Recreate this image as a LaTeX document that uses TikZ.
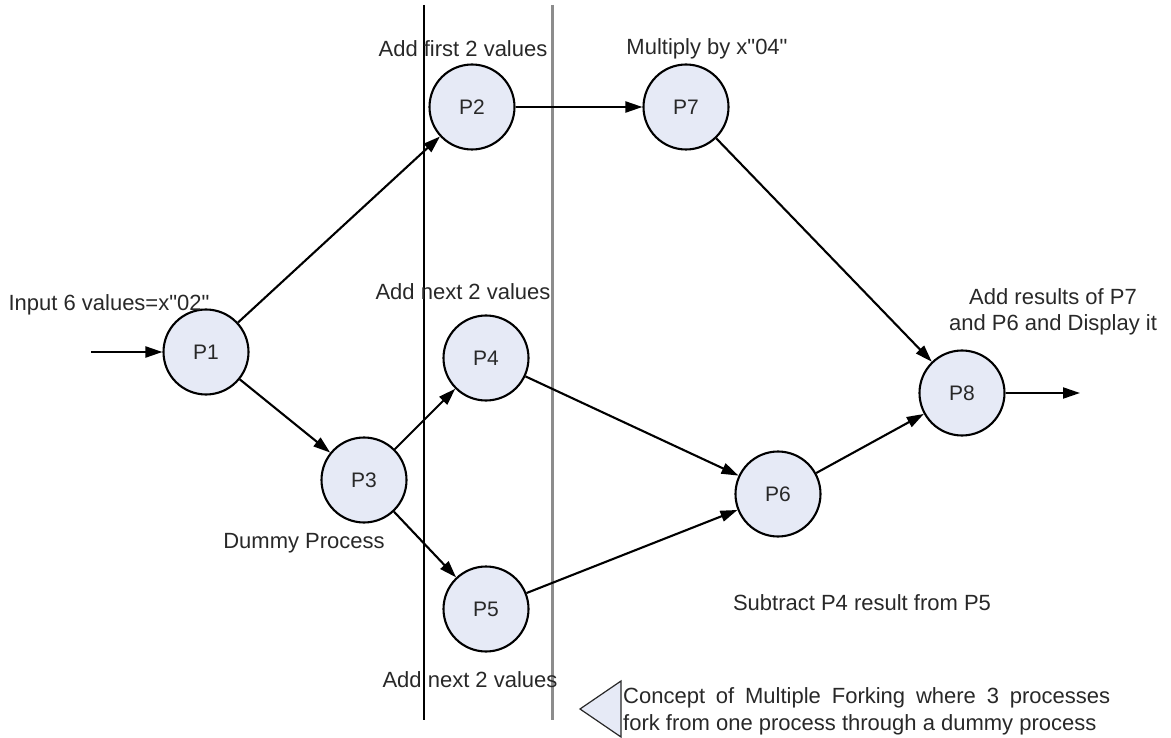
\documentclass[tikz,border=0pt]{standalone}
\usepackage{fontspec}
\newfontfamily\diagfont{Liberation Sans}
\usetikzlibrary{arrows.meta}
\definecolor{procfill}{RGB}{230,234,246}
\definecolor{inktext}{RGB}{40,40,40}
\definecolor{lanegray}{RGB}{140,140,140}
\tikzset{
  proc/.style={circle, draw=black, line width=2.1pt, fill=procfill,
    minimum size=85pt, inner sep=0pt, text=inktext,
    font=\diagfont\fontsize{21}{24}\selectfont},
  caption/.style={inner sep=0pt, text=inktext,
    font=\diagfont\fontsize{22}{26}\selectfont},
  flow/.style={line width=2.1pt, -{Triangle[length=17pt,width=11pt]}},
}
\begin{document}
\begin{tikzpicture}[x=1pt,y=-1pt]
\useasboundingbox (0,0) rectangle (1171,738);

% lane separators
\coordinate (laneAtop) at (424,5);
\coordinate (laneAbot) at (424,720);
\coordinate (laneBtop) at (552,5);
\coordinate (laneBbot) at (552,720);
\draw[line width=1.7pt, black] (laneAtop) -- (laneAbot);
\draw[line width=3pt, lanegray] (laneBtop) -- (laneBbot);

% processes
\node[proc] (P1) at (206,352) {P1};
\node[proc] (P2) at (472,107) {P2};
\node[proc] (P3) at (364,480) {P3};
\node[proc] (P4) at (486,358) {P4};
\node[proc] (P5) at (486,609) {P5};
\node[proc] (P6) at (778,494) {P6};
\node[proc] (P7) at (686,107) {P7};
\node[proc] (P8) at (962,393) {P8};

% free ends of the input and output arrows
\coordinate (src) at (91,352);
\coordinate (dst) at (1080,393);

% connectors
\draw[flow] (src) -- (P1);
\draw[flow] (P1) -- (P2);
\draw[flow] (P1) -- (P3);
\draw[flow] (P3) -- (P4);
\draw[flow] (P3) -- (P5);
\draw[flow] (P2) -- (P7);
\draw[flow] (P7) -- (P8);
\draw[flow] (P4) -- (P6);
\draw[flow] (P5) -- (P6);
\draw[flow] (P6) -- (P8);
\draw[flow] (P8) -- (dst);

% captions
\node[caption] (capIn) at (109,305) {Input 6 values=x"02"};
\node[caption] (capP2) at (463,49) {Add first 2 values};
\node[caption] (capP7) at (707,49) {Multiply by x"04"};
\node[caption] (capP4) at (463,292) {Add next 2 values};
\node[caption] (capP3) at (304,543) {Dummy Process};
\node[caption] (capP5) at (470,680) {Add next 2 values};
\node[caption] (capP6) at (862,603) {Subtract P4 result from P5};
\node[caption, align=center] (capP8) at (1053,312) {Add results of P7\\and P6 and Display it};

% note marker and note text
\filldraw[fill=procfill, draw=inktext, line width=1.2pt]
  (621,681) -- (580,709) -- (621,737) -- cycle;
\node[caption, anchor=west] (note) at (623,711)
  {\parbox{487pt}{\fontsize{22}{27}\selectfont Concept of Multiple Forking where 3 processes\linebreak fork from one process through a dummy process}};
\end{tikzpicture}
\end{document}
